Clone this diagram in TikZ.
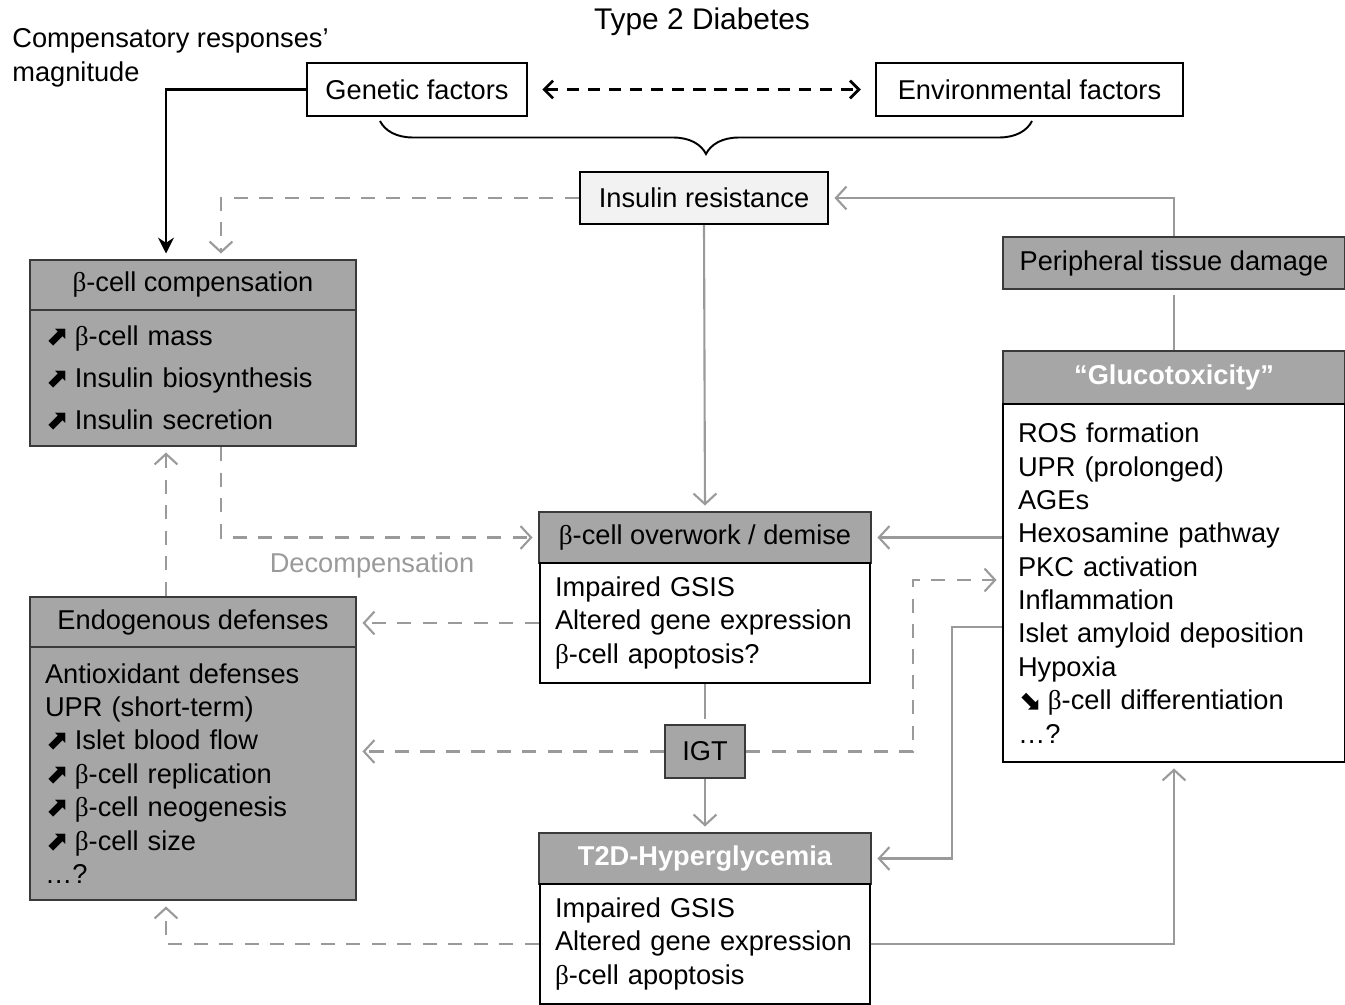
\documentclass[tikz,border=0pt]{standalone}
\usepackage{fontspec}
\setmainfont{Liberation Sans}
\newfontfamily\arrowfont{DejaVu Sans}
\newfontfamily\betafont{Liberation Serif}
\usetikzlibrary{arrows.meta, decorations.pathreplacing}

\definecolor{boxgray}{HTML}{A6A6A6}
\definecolor{linegray}{HTML}{9A9A9A}
\definecolor{lightbox}{HTML}{F2F2F2}
\definecolor{edgegray}{HTML}{3A3A3A}

\newcommand{\fsz}{\fontsize{15.5pt}{19pt}\selectfont}
\newcommand{\bc}{{\betafont β}}
\newcommand{\incr}{{\arrowfont\bfseries ⬈}\hspace{4pt}}
\newcommand{\decr}{{\arrowfont\bfseries ⬊}\hspace{4pt}}

\tikzset{
  box/.style={draw=black, line width=1.4pt, inner sep=0pt, minimum height=1.04cm, font=\fsz},
  hdr/.style={box, draw=edgegray, fill=boxgray},
  whitehdr/.style={hdr, text=white, font=\fsz\bfseries},
  body/.style={box, align=left, inner xsep=0.3cm},
  graybody/.style={body, draw=edgegray, fill=boxgray},
  gline/.style={draw=linegray, line width=1.2pt, -{Straight Barb[length=6pt,width=13pt]}, shorten >=3pt},
  gdash/.style={gline, dash pattern=on 8pt off 6.5pt},
}

\begin{document}
\begin{tikzpicture}[x=0.02cm, y=-0.02cm]
  \useasboundingbox (0,0) rectangle (1345,1004);

  % title and top row
  \node[font=\fontsize{17pt}{20pt}\selectfont] (title) at (702,22) {Type 2 Diabetes};
  \node[font=\fsz, align=left, anchor=west, inner sep=0pt] (magn) at (12,58) {Compensatory responses’\\magnitude};
  \node[box, minimum width=4.4cm, minimum height=1.06cm] (gen) at (417,89.5) {Genetic factors};
  \node[box, minimum width=6.14cm, minimum height=1.06cm] (env) at (1029.5,89.5) {Environmental factors};
  \node[box, fill=lightbox, minimum width=4.96cm] (ins) at (704,198) {Insulin resistance};
  \node[hdr, minimum width=6.84cm] (ptd) at (1174,263) {Peripheral tissue damage};

  % left column
  \node[hdr, minimum width=6.52cm, minimum height=1.0cm] (comph) at (193,285) {\bc-cell compensation};
  \node[graybody, font=\fontsize{15.5pt}{23.8pt}\selectfont, text width=5.92cm, minimum height=2.72cm] (compb) at (193,378)
    {\incr\bc-cell mass\\\incr Insulin biosynthesis\\\incr Insulin secretion};
  \node[hdr, minimum width=6.52cm, minimum height=1.0cm] (endoh) at (193,622) {Endogenous defenses};
  \node[graybody, text width=5.92cm, minimum height=5.06cm] (endob) at (193,773.5)
    {Antioxidant defenses\\UPR (short-term)\\\incr Islet blood flow\\\incr\bc-cell replication\\\incr\bc-cell neogenesis\\\incr\bc-cell size\\…?};

  % middle column
  \node[hdr, minimum width=6.64cm, minimum height=1.02cm] (owh) at (705,537.5) {\bc-cell overwork / demise};
  \node[body, text width=6.0cm, minimum height=2.4cm] (owb) at (705,623)
    {Impaired GSIS\\Altered gene expression\\\bc-cell apoptosis?};
  \node[hdr, minimum width=1.6cm, minimum height=1.06cm] (igt) at (705,751.5) {IGT};
  \node[whitehdr, minimum width=6.64cm, minimum height=1.02cm] (t2dh) at (705,858.5) {T2D-Hyperglycemia};
  \node[body, text width=6.0cm, minimum height=2.4cm] (t2db) at (705,944)
    {Impaired GSIS\\Altered gene expression\\\bc-cell apoptosis};

  % right column
  \node[whitehdr, minimum width=6.84cm, minimum height=1.06cm] (gluh) at (1174,377.5) {“Glucotoxicity”};
  \node[body, text width=6.24cm, minimum height=7.16cm] (glub) at (1174,583)
    {ROS formation\\UPR (prolonged)\\AGEs\\Hexosamine pathway\\PKC activation\\Inflammation\\Islet amyloid deposition\\Hypoxia\\\decr\bc-cell differentiation\\…?};

  \node[font=\fsz, text=linegray] (decomp) at (372,565) {Decompensation};
  \coordinate (turn) at (913,580);

  % connectors
  \draw[line width=1.6pt, dash pattern=on 7pt off 5pt, {Straight Barb[length=5pt,width=10pt]}-{Straight Barb[length=5pt,width=10pt]}, shorten <=8pt, shorten >=8pt] (gen.east) -- (env.west);
  \draw[line width=1.1pt, decorate, decoration={brace, amplitude=0.66cm, mirror}] (380,121) -- (1032,121);
  \draw[line width=1.6pt, -{Stealth[length=9pt,width=9pt]}, shorten >=3pt] (gen.west) -| ([xshift=-0.54cm]comph.north);
  \draw[gdash] (ins.west) -| ([xshift=0.56cm]comph.north);
  \draw[gline] (ins.south) -- (owh.north);
  \draw[gline] (ptd.north) |- (ins.east);
  \draw[gline, -] (gluh.north) -- (ptd.south);
  \draw[gdash] ([xshift=0.56cm]compb.south) |- (owh.west);
  \draw[gdash] ([xshift=-0.54cm]endoh.north) -- ([xshift=-0.54cm]compb.south);
  \draw[gdash] (owb.west) -- (owb.west -| endoh.east);
  \draw[gdash] (igt.west) -- (igt.west -| endob.east);
  \draw[gdash] (igt.east) -| (turn) -- (turn -| glub.west);
  \draw[gline] (glub.west |- owh) -- (owh.east);
  \draw[gline] ([yshift=-0.88cm]glub.west) -- ++(-50,0) |- (t2dh.east);
  \draw[gline, -] (owb.south) -- (igt.north);
  \draw[gline] (igt.south) -- (t2dh.north);
  \draw[gdash] (t2db.west) -| ([xshift=-0.54cm]endob.south);
  \draw[gline] (t2db.east) -| (glub.south);
\end{tikzpicture}
\end{document}
